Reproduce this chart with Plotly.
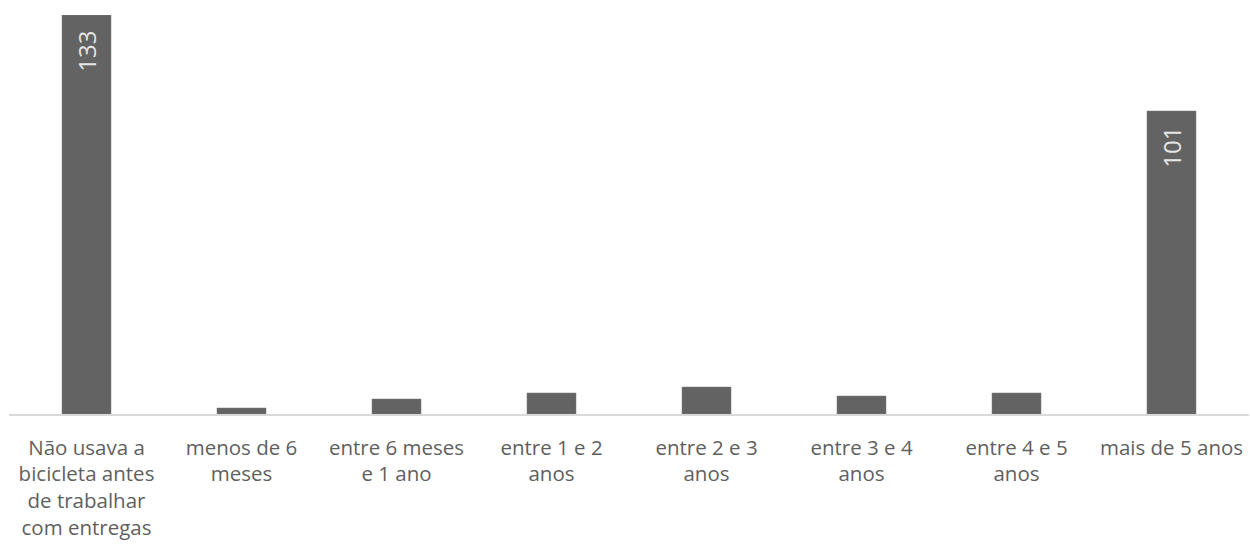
import plotly.graph_objects as go

categories = [
    "Não usava a<br>bicicleta antes<br>de trabalhar<br>com entregas",
    "menos de 6<br>meses",
    "entre 6 meses<br>e 1 ano",
    "entre 1 e 2<br>anos",
    "entre 2 e 3<br>anos",
    "entre 3 e 4<br>anos",
    "entre 4 e 5<br>anos",
    "mais de 5 anos",
]
values = [133, 2, 5, 7, 9, 6, 7, 101]
labels = ["133", "", "", "", "", "", "", "101"]

fig = go.Figure(
    go.Bar(
        x=list(range(len(categories))),
        y=values,
        text=[(t + "\u00a0\u00a0") if t else "" for t in labels],
        textposition="inside",
        insidetextanchor="end",
        textangle=-90,
        textfont=dict(family="Open Sans", size=24, color="#e6e6e6"),
        marker=dict(color="#636363", line=dict(color="#7a7a7a", width=0.5)),
        hoverinfo="skip",
    )
)

fig.update_layout(
    width=1250,
    height=549,
    margin=dict(l=9, r=1, t=15, b=135),
    paper_bgcolor="white",
    plot_bgcolor="white",
    bargap=0.684,
    showlegend=False,
    uniformtext=dict(minsize=8, mode=False),
)
fig.update_xaxes(
    tickmode="array",
    tickvals=list(range(len(categories))),
    ticktext=categories,
    range=[-0.5, len(categories) - 0.5],
    showline=True,
    linecolor="#d9d9d9",
    linewidth=2,
    showgrid=False,
    zeroline=False,
    ticks="",
    ticklabelstandoff=14,
    tickfont=dict(family="Open Sans", size=20.5, color="#5f5f5f"),
)
fig.update_yaxes(
    range=[0, 133],
    visible=False,
    showgrid=False,
    zeroline=False,
)

fig.write_html("out.html")
